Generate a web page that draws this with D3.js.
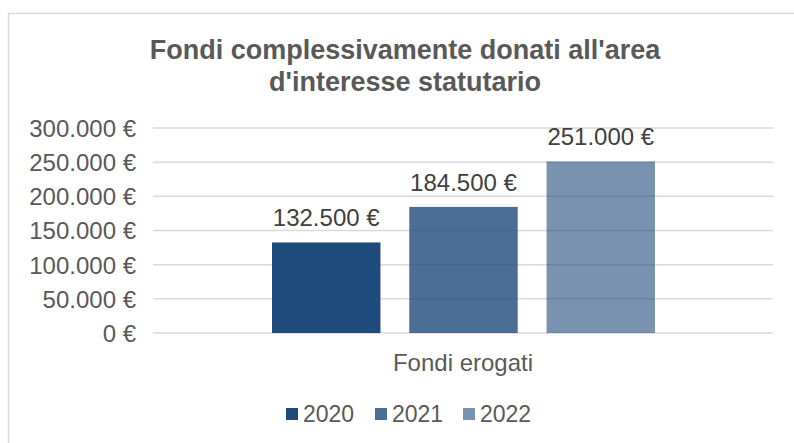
<!DOCTYPE html>
<html>
<head>
<meta charset="utf-8">
<script src="https://cdn.jsdelivr.net/npm/d3@7"></script>
<style>
  body { margin: 0; background: #fff; }
  svg { display: block; font-family: "Liberation Sans", Arial, sans-serif; }
</style>
</head>
<body>
<svg width="794" height="443"></svg>
<script>
var titleLines = ["Fondi complessivamente donati all'area", "d'interesse statutario"];
var category = "Fondi erogati";
var years = ["2020", "2021", "2022"];
var values = [132500, 184500, 251000];
var ticks = [0, 50000, 100000, 150000, 200000, 250000, 300000];
var colors = ["#1f4a7c", "#1f4a7c", "#1f4a7c"];
var opacities = [1, 0.8, 0.6];

var svg = d3.select("svg");
var margin = {"top": 128, "right": 21, "bottom": 110, "left": 153};
var width = +svg.attr("width") - margin.left - margin.right;
var height = +svg.attr("height") - margin.top - margin.bottom;
var fs = 24;

// chart border (only top and left visible, rest cropped)
svg.append("path")
    .attr("d", "M8.5,443 V13.5 H794")
    .attr("fill", "none")
    .attr("stroke", "#d9d9d9")
    .attr("stroke-width", 1.5);

svg.append("text")
    .attr("x", 405)
    .attr("y", 59)
    .attr("text-anchor", "middle")
    .attr("font-size", 27)
    .attr("font-weight", "bold")
    .attr("fill", "#595959")
    .selectAll("tspan")
    .data(titleLines)
    .enter().append("tspan")
    .attr("x", 405)
    .attr("dy", function (d, i) { return i === 0 ? 0 : 32; })
    .text(function (d) { return d; });

var g = svg.append("g").attr("transform", "translate(" + margin.left + "," + margin.top + ")");

var y = d3.scaleLinear().domain([0, 300000]).range([height, 0]);
var x0 = d3.scaleBand().domain([category]).range([0, width]);
var x1 = d3.scaleBand().domain(years).range([119, width - 118]).paddingInner(0.21);

var fmt = function (v) {
    return d3.format(",")(v).replace(/,/g, ".") + " €";
};

g.selectAll(".grid")
    .data(ticks)
    .enter().append("line")
    .attr("x1", 0)
    .attr("x2", width)
    .attr("y1", function (d) { return y(d); })
    .attr("y2", function (d) { return y(d); })
    .attr("stroke", "#d9d9d9")
    .attr("stroke-width", 1.5);

var yAxis = g.append("g")
    .call(d3.axisLeft(y).tickValues(ticks).tickFormat(fmt).tickSize(0).tickPadding(17));
yAxis.select(".domain").remove();
yAxis.selectAll("text")
    .attr("font-size", fs)
    .attr("font-family", "Liberation Sans, Arial, sans-serif")
    .attr("fill", "#595959")
    .attr("dy", "0.35em");

g.selectAll(".bar")
    .data(values)
    .enter().append("rect")
    .attr("x", function (d, i) { return x1(years[i]); })
    .attr("y", function (d) { return y(d); })
    .attr("width", x1.bandwidth())
    .attr("height", function (d) { return height - y(d); })
    .attr("fill", function (d, i) { return colors[i]; })
    .attr("fill-opacity", function (d, i) { return opacities[i]; });

g.selectAll(".label")
    .data(values)
    .enter().append("text")
    .attr("x", function (d, i) { return x1(years[i]) + x1.bandwidth() / 2; })
    .attr("y", function (d) { return y(d) - 16; })
    .attr("text-anchor", "middle")
    .attr("font-size", fs)
    .attr("fill", "#404040")
    .text(fmt);

g.append("text")
    .attr("x", x0(category) + x0.bandwidth() / 2)
    .attr("y", height + 38)
    .attr("text-anchor", "middle")
    .attr("font-size", fs)
    .attr("fill", "#595959")
    .text(category);

var legend = svg.append("g");
var legendX = [286, 375, 463];
var item = legend.selectAll(".item")
    .data(years)
    .enter().append("g")
    .attr("transform", function (d, i) { return "translate(" + legendX[i] + ",408)"; });
item.append("rect")
    .attr("width", 12)
    .attr("height", 12)
    .attr("fill", function (d, i) { return colors[i]; })
    .attr("fill-opacity", function (d, i) { return opacities[i]; });
item.append("text")
    .attr("x", 17)
    .attr("y", 13.5)
    .attr("font-size", 23)
    .attr("fill", "#595959")
    .text(function (d) { return d; });
</script>
</body>
</html>
